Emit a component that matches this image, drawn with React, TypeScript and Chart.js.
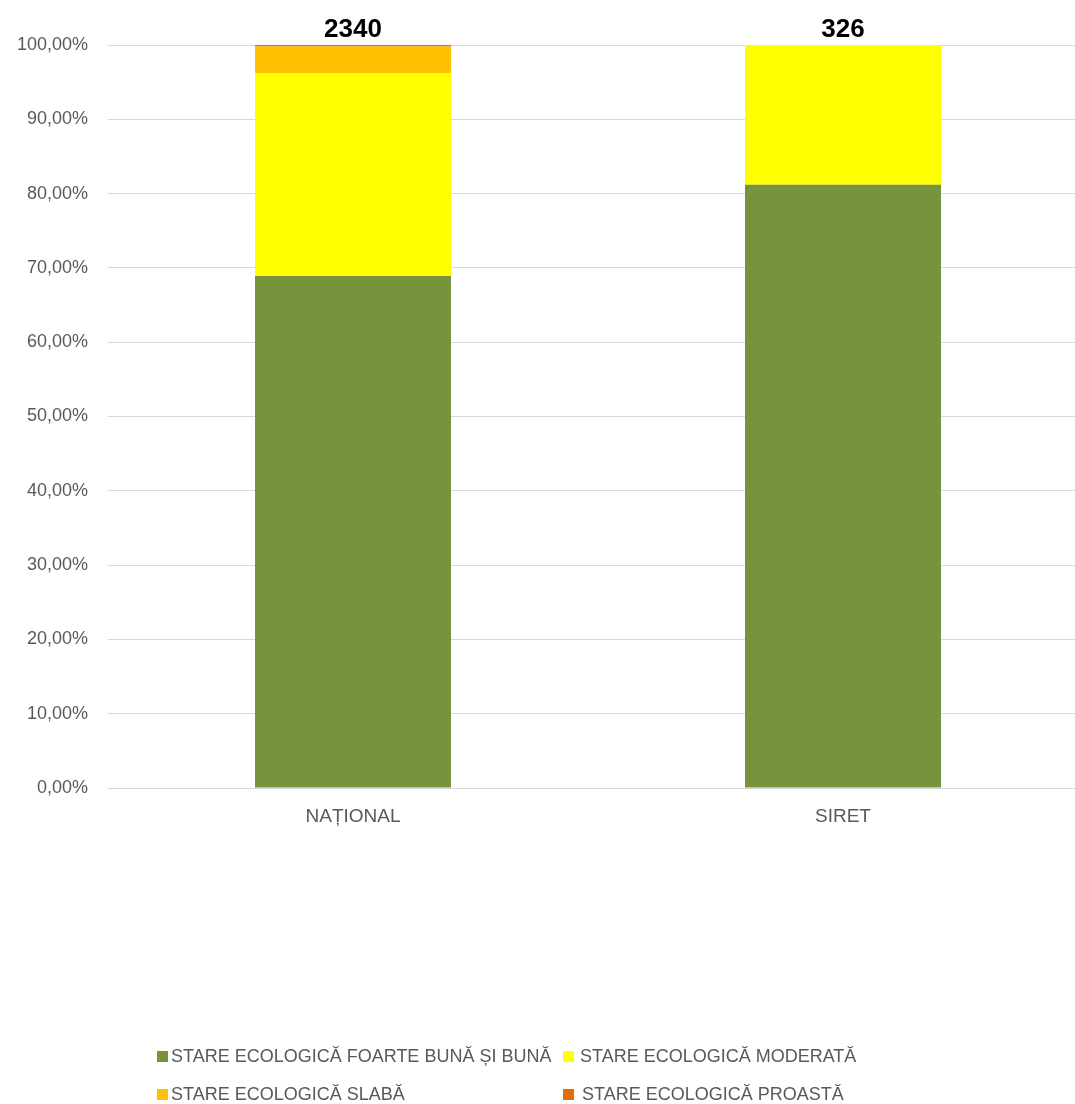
import React, { useEffect, useRef } from "react";
import { Chart, registerables } from "chart.js";

Chart.register(...registerables);

const categories = ["NAȚIONAL", "SIRET"];
const totals = [2340, 326];
const seriesNames = [
  "STARE ECOLOGICĂ FOARTE BUNĂ ȘI BUNĂ",
  "STARE ECOLOGICĂ MODERATĂ",
  "STARE ECOLOGICĂ SLABĂ",
  "STARE ECOLOGICĂ PROASTĂ",
];
const foarteBunaSiBuna = [68.9, 81.2];
const moderata = [27.3, 18.8];
const slaba = [3.6, 0];
const proasta = [0.2, 0];
const seriesColors = ["#77933C", "#FFFF00", "#FFC000", "#E36C09"];
const yMin = 0;
const yMax = 100;
const yStep = 10;

const FONT = '"Liberation Sans", Arial, sans-serif';
const W = 1095;
const H = 1104;

// legend layout (positions only)
const legendSlots = [
  { x: 157, y: 1056, tx: 171 },
  { x: 563, y: 1056, tx: 580 },
  { x: 157, y: 1094, tx: 171 },
  { x: 563, y: 1094, tx: 582 },
];

const totalsPlugin = {
  id: "totalsPlugin",
  afterDatasetsDraw(chart: any) {
    const ctx = chart.ctx;
    const xs = chart.scales.x;
    const ys = chart.scales.y;
    ctx.save();
    ctx.font = `bold 26px ${FONT}`;
    ctx.fillStyle = "#000000";
    ctx.textAlign = "center";
    ctx.textBaseline = "middle";
    categories.forEach((_, i) => {
      let sum = 0;
      chart.data.datasets.forEach((ds: any) => (sum += Number(ds.data[i]) || 0));
      const x = xs.getPixelForValue(i);
      const y = ys.getPixelForValue(sum);
      ctx.fillText(String(totals[i]), x, y - 15);
    });
    ctx.restore();
  },
};

const legendPlugin = {
  id: "gridLegend",
  afterDraw(chart: any) {
    const ctx = chart.ctx;
    ctx.save();
    ctx.font = `18px ${FONT}`;
    ctx.textBaseline = "middle";
    ctx.textAlign = "left";
    chart.data.datasets.forEach((ds: any, i: number) => {
      const s = legendSlots[i];
      ctx.fillStyle = ds.backgroundColor;
      ctx.fillRect(s.x, s.y - 5, 11, 11);
      ctx.fillStyle = "#595959";
      ctx.fillText(ds.label, s.tx, s.y + 1);
    });
    ctx.restore();
  },
};

export default function App() {
  const ref = useRef<HTMLCanvasElement | null>(null);
  useEffect(() => {
    if (!ref.current) return;
    const seriesData = [foarteBunaSiBuna, moderata, slaba, proasta];
    const chart = new Chart(ref.current, {
      type: "bar",
      data: {
        labels: categories,
        datasets: seriesNames.map((name, i) => ({
          label: name,
          data: seriesData[i],
          backgroundColor: seriesColors[i],
          borderWidth: 0,
          barPercentage: 0.4,
          categoryPercentage: 1,
        })),
      },
      options: {
        responsive: false,
        animation: false,
        devicePixelRatio: 1,
        layout: { padding: { top: 45, right: 7, left: 0, bottom: 0 } },
        plugins: {
          legend: { display: false },
          tooltip: { enabled: false },
          title: { display: false },
        },
        scales: {
          x: {
            stacked: true,
            grid: { display: false, drawTicks: false },
            border: { display: false },
            ticks: {
              color: "#595959",
              font: { family: FONT, size: 19 },
              padding: 17,
            },
            afterFit(scale: any) {
              scale.height = H - 788;
            },
          },
          y: {
            stacked: true,
            min: yMin,
            max: yMax,
            grid: { color: "#D9D9D9", lineWidth: 1, drawTicks: false },
            border: { display: false },
            ticks: {
              stepSize: yStep,
              color: "#595959",
              font: { family: FONT, size: 18 },
              padding: 20,
              callback: (v: any) => Number(v).toFixed(2).replace(".", ",") + "%",
            },
            afterFit(scale: any) {
              scale.width = 108;
            },
          },
        },
      },
      plugins: [totalsPlugin, legendPlugin],
    });
    return () => chart.destroy();
  }, []);
  return (
    <div
      style={{
        position: "fixed",
        left: 0,
        top: 0,
        width: 1075,
        height: H,
        overflow: "hidden",
        background: "#ffffff",
      }}
    >
      <canvas ref={ref} width={W} height={H} style={{ width: W, height: H, display: "block" }} />
    </div>
  );
}
